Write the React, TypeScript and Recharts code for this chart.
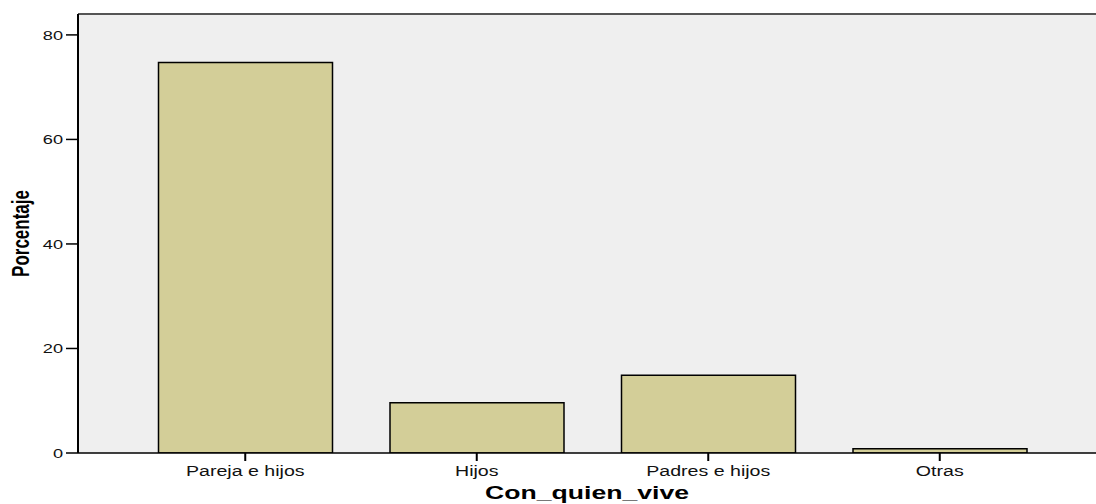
import React from "react";
import { BarChart, Bar, XAxis, YAxis, CartesianGrid, ReferenceLine, Label } from "recharts";

const categories = ["Pareja e hijos", "Hijos", "Padres e hijos", "Otras"];
const percentages = [74.7, 9.6, 14.9, 0.8];
const yTicks = [0, 20, 40, 60, 80];
const xTitle = "Con_quien_vive";
const yTitle = "Porcentaje";

const data = categories.map((c, i) => ({ name: c, value: percentages[i] }));

const FONT = "'Liberation Sans', Arial, Helvetica, sans-serif";
const SX = 1.4;

const YTick = (props: any) => {
  const { x, y, payload } = props;
  return (
    <g transform={`translate(${x - 1},${y + 5}) scale(${SX},1)`}>
      <text x={0} y={0} textAnchor="end" fontSize={13} fontFamily={FONT} fill="#111">
        {payload.value}
      </text>
    </g>
  );
};

const XTick = (props: any) => {
  const { x, y, payload } = props;
  return (
    <g transform={`translate(${x},${y + 13}) scale(${SX},1)`}>
      <text x={0} y={0} textAnchor="middle" fontSize={14} fontFamily={FONT} fill="#111">
        {payload.value}
      </text>
    </g>
  );
};

const XTitle = (props: any) => {
  const vb = props.viewBox || {};
  const cx = vb.x + vb.width / 2;
  const by = vb.y + 46;
  return (
    <g transform={`translate(${cx},${by}) scale(${SX},1)`}>
      <text x={0} y={0} textAnchor="middle" fontSize={19} fontWeight="bold" fontFamily={FONT} fill="#000">
        {xTitle}
      </text>
    </g>
  );
};

const YTitle = (props: any) => {
  const vb = props.viewBox || {};
  const cy = vb.y + vb.height / 2;
  return (
    <g transform={`translate(29,${cy}) scale(${SX},1) rotate(-90)`}>
      <text x={0} y={0} textAnchor="middle" fontSize={17} fontWeight="bold" fontFamily={FONT} fill="#000">
        {yTitle}
      </text>
    </g>
  );
};

export default function App() {
  return (
    <div style={{ position: "absolute", left: 0, top: 0, width: 1096, height: 504, background: "#fff" }}>
      <BarChart
        width={1096}
        height={504}
        data={data}
        margin={{ top: 14, right: 0, bottom: 0, left: 0 }}
        barSize={174}
      >
        <CartesianGrid fill="#EFEFEF" horizontal={false} vertical={false} />
        <XAxis
          dataKey="name"
          height={51}
          padding={{ left: 51.5, right: 40.5 }}
          tickSize={8}
          tickLine={{ stroke: "#000", strokeWidth: 2 }}
          axisLine={{ stroke: "#000", strokeWidth: 1.5 }}
          tick={<XTick />}
          interval={0}
        >
          <Label content={<XTitle />} position="insideBottom" />
        </XAxis>
        <YAxis
          width={78}
          domain={[0, 84]}
          ticks={yTicks}
          tickSize={12}
          tickLine={{ stroke: "#000", strokeWidth: 1.5 }}
          axisLine={{ stroke: "#000", strokeWidth: 2 }}
          tick={<YTick />}
          allowDataOverflow
        >
          <Label content={<YTitle />} position="insideLeft" />
        </YAxis>
        <ReferenceLine y={84} stroke="#555" strokeWidth={2} />
        <Bar dataKey="value" fill="#D3CE98" stroke="#000" strokeWidth={1.5} isAnimationActive={false} />
      </BarChart>
    </div>
  );
}
